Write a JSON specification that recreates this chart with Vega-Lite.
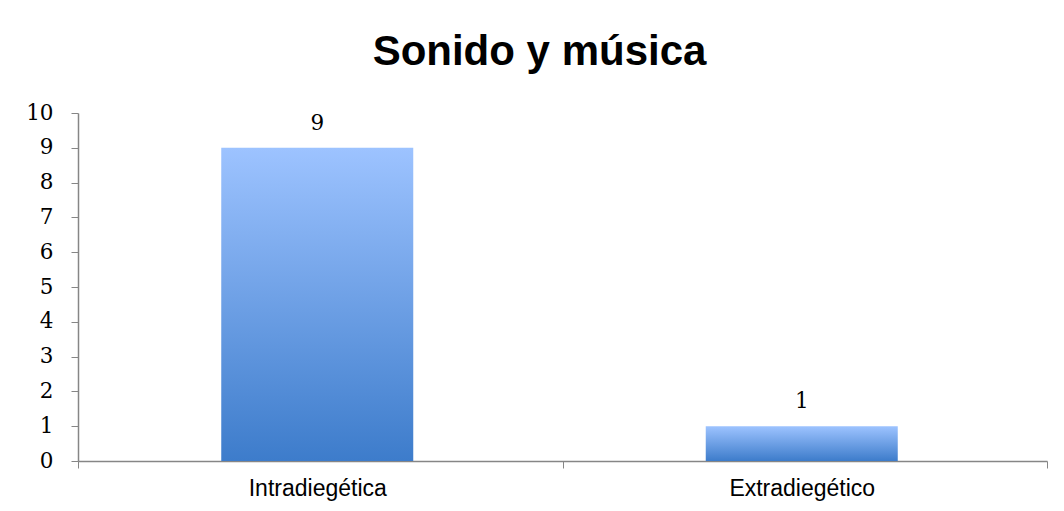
{
  "$schema": "https://vega.github.io/schema/vega-lite/v6.json",
  "autosize": {"type": "none"},
  "padding": {"left": 78, "top": 113, "right": 17, "bottom": 50},
  "width": 969,
  "height": 348,
  "background": "white",
  "title": {
    "text": "Sonido y música",
    "font": "Liberation Sans",
    "fontSize": 42,
    "fontWeight": "bold",
    "color": "#000000",
    "anchor": "middle",
    "dx": -23,
    "offset": 28
  },
  "data": {
    "values": [
      {"categoria": "Intradiegética", "valor": 9},
      {"categoria": "Extradiegético", "valor": 1}
    ]
  },
  "config": {
    "view": {"stroke": null},
    "axis": {"domainColor": "#868686", "tickColor": "#868686", "grid": false, "title": null}
  },
  "encoding": {
    "x": {
      "field": "categoria",
      "type": "nominal",
      "sort": null,
      "scale": {"paddingInner": 0, "paddingOuter": 0},
      "axis": {
        "labelAngle": 0,
        "labelFont": "Liberation Sans",
        "labelFontSize": 23,
        "labelColor": "#000000",
        "tickBand": "extent",
        "tickSize": 7,
        "labelPadding": 9,
        "labelOffset": -3,
        "domainWidth": 1.5
      }
    },
    "y": {
      "field": "valor",
      "type": "quantitative",
      "scale": {"domain": [0, 10], "nice": false},
      "axis": {
        "values": [0, 1, 2, 3, 4, 5, 6, 7, 8, 9, 10],
        "labelFont": "DejaVu Serif",
        "labelFontSize": 21.5,
        "labelColor": "#000000",
        "tickSize": 7,
        "labelPadding": 18,
        "domainWidth": 1.5
      }
    }
  },
  "layer": [
    {
      "mark": {
        "type": "bar",
        "size": 192,
        "xOffset": -3,
        "color": {
          "gradient": "linear",
          "x1": 0, "y1": 0, "x2": 0, "y2": 1,
          "stops": [
            {"offset": 0, "color": "#9DC3FF"},
            {"offset": 1, "color": "#3D7CCB"}
          ]
        }
      }
    },
    {
      "mark": {
        "type": "text",
        "baseline": "bottom",
        "dy": -13,
        "dx": -3,
        "font": "DejaVu Serif",
        "fontSize": 21.5,
        "color": "#000000"
      },
      "encoding": {"text": {"field": "valor", "type": "quantitative"}}
    }
  ]
}
